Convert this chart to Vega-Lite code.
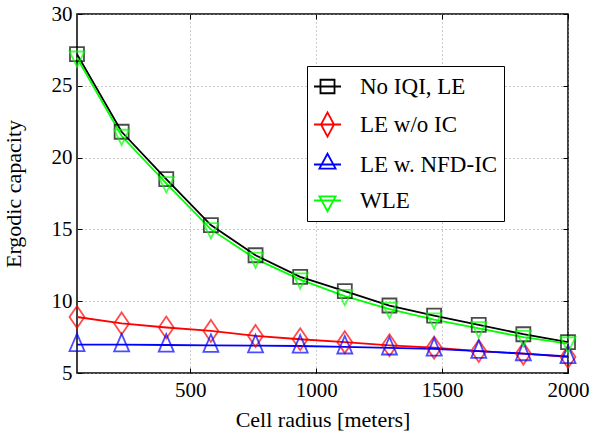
{
  "$schema": "https://vega.github.io/schema/vega-lite/v6.json",
  "width": 491,
  "height": 359,
  "autosize": {"type": "none"},
  "padding": {"left": 77, "top": 14, "right": 22, "bottom": 64},
  "config": {
    "font": "Liberation Serif, Times New Roman, serif",
    "view": {"stroke": "black", "strokeWidth": 1.5},
    "axis": {
      "domain": false,
      "labelFlush": false,
      "labelFont": "Liberation Serif, Times New Roman, serif",
      "labelFontSize": 21,
      "labelColor": "black",
      "titleFont": "Liberation Serif, Times New Roman, serif",
      "titleFontSize": 22,
      "titleFontWeight": "normal",
      "titleColor": "black",
      "tickColor": "black",
      "tickWidth": 1,
      "gridColor": "#999999",
      "gridDash": [1, 3],
      "gridWidth": 1
    },
    "legend": {"labelFont": "Liberation Serif, Times New Roman, serif"},
    "point": {"filled": false, "strokeWidth": 1.8, "size": 196}
  },
  "data": {
    "values": [
      {"r": 50, "s": "No IQI, LE", "v": 27.2},
      {"r": 227.3, "s": "No IQI, LE", "v": 21.8},
      {"r": 404.5, "s": "No IQI, LE", "v": 18.5},
      {"r": 581.8, "s": "No IQI, LE", "v": 15.3},
      {"r": 759.1, "s": "No IQI, LE", "v": 13.2},
      {"r": 936.4, "s": "No IQI, LE", "v": 11.7},
      {"r": 1113.6, "s": "No IQI, LE", "v": 10.7},
      {"r": 1290.9, "s": "No IQI, LE", "v": 9.7},
      {"r": 1468.2, "s": "No IQI, LE", "v": 9.0},
      {"r": 1645.5, "s": "No IQI, LE", "v": 8.35},
      {"r": 1822.7, "s": "No IQI, LE", "v": 7.7},
      {"r": 2000, "s": "No IQI, LE", "v": 7.15},
      {"r": 50, "s": "LE w/o IC", "v": 8.9},
      {"r": 227.3, "s": "LE w/o IC", "v": 8.45},
      {"r": 404.5, "s": "LE w/o IC", "v": 8.17},
      {"r": 581.8, "s": "LE w/o IC", "v": 7.93},
      {"r": 759.1, "s": "LE w/o IC", "v": 7.58},
      {"r": 936.4, "s": "LE w/o IC", "v": 7.35},
      {"r": 1113.6, "s": "LE w/o IC", "v": 7.15},
      {"r": 1290.9, "s": "LE w/o IC", "v": 6.93},
      {"r": 1468.2, "s": "LE w/o IC", "v": 6.77},
      {"r": 1645.5, "s": "LE w/o IC", "v": 6.53},
      {"r": 1822.7, "s": "LE w/o IC", "v": 6.35},
      {"r": 2000, "s": "LE w/o IC", "v": 6.12},
      {"r": 50, "s": "LE w. NFD-IC", "v": 6.98},
      {"r": 227.3, "s": "LE w. NFD-IC", "v": 6.97},
      {"r": 404.5, "s": "LE w. NFD-IC", "v": 6.95},
      {"r": 581.8, "s": "LE w. NFD-IC", "v": 6.93},
      {"r": 759.1, "s": "LE w. NFD-IC", "v": 6.9},
      {"r": 936.4, "s": "LE w. NFD-IC", "v": 6.88},
      {"r": 1113.6, "s": "LE w. NFD-IC", "v": 6.82},
      {"r": 1290.9, "s": "LE w. NFD-IC", "v": 6.75},
      {"r": 1468.2, "s": "LE w. NFD-IC", "v": 6.68},
      {"r": 1645.5, "s": "LE w. NFD-IC", "v": 6.52},
      {"r": 1822.7, "s": "LE w. NFD-IC", "v": 6.35},
      {"r": 2000, "s": "LE w. NFD-IC", "v": 6.15},
      {"r": 50, "s": "WLE", "v": 26.95},
      {"r": 227.3, "s": "WLE", "v": 21.5},
      {"r": 404.5, "s": "WLE", "v": 18.2},
      {"r": 581.8, "s": "WLE", "v": 15.0},
      {"r": 759.1, "s": "WLE", "v": 12.95},
      {"r": 936.4, "s": "WLE", "v": 11.5},
      {"r": 1113.6, "s": "WLE", "v": 10.35},
      {"r": 1290.9, "s": "WLE", "v": 9.45},
      {"r": 1468.2, "s": "WLE", "v": 8.72},
      {"r": 1645.5, "s": "WLE", "v": 8.1},
      {"r": 1822.7, "s": "WLE", "v": 7.5},
      {"r": 2000, "s": "WLE", "v": 7.05}
    ]
  },
  "layer": [
    {
      "mark": {"type": "line", "strokeWidth": 1.8},
      "encoding": {
        "x": {"field": "r", "type": "quantitative", "title": "Cell radius [meters]",
              "scale": {"domain": [50, 2000], "nice": false, "zero": false},
              "axis": {"values": [500, 1000, 1500, 2000], "format": "d", "ticks": false, "labelPadding": 6, "titlePadding": 9}},
        "y": {"field": "v", "type": "quantitative", "title": "Ergodic capacity",
              "scale": {"domain": [5, 30], "nice": false, "zero": false},
              "axis": {"values": [5, 10, 15, 20, 25, 30], "ticks": false, "labelPadding": 5, "titlePadding": 26}},
        "color": {
          "field": "s", "type": "nominal",
          "scale": {"domain": ["No IQI, LE", "LE w/o IC", "LE w. NFD-IC", "WLE"],
                    "range": ["#000000", "#ff0000", "#0000ff", "#00ff00"]},
          "legend": {
            "title": null, "orient": "none", "legendX": 230, "legendY": 52,
            "padding": 6, "strokeColor": "black", "fillColor": "white",
            "labelFontSize": 23, "labelColor": "black", "labelOffset": 18,
            "symbolSize": 729, "rowPadding": 9, "symbolStrokeWidth": 1.8,
            "encode": {
              "symbols": {
                "update": {
                  "fill": {"value": "transparent"},
                  "shape": {"signal": "datum.value === 'No IQI, LE' ? 'M-1,0H1M-0.52,-0.5H0.52V0.5H-0.52Z' : datum.value === 'LE w/o IC' ? 'M-1,0H1M0,-0.9L0.48,0L0,0.9L-0.48,0Z' : datum.value === 'LE w. NFD-IC' ? 'M-1,0H1M0,-0.8L0.6,0.3L-0.6,0.3Z' : 'M-1,0H1M0,0.8L0.6,-0.3L-0.6,-0.3Z'"}
                }
              }
            }
          }
        }
      }
    },
    {
      "transform": [{"filter": {"field": "s", "equal": "No IQI, LE"}}],
      "mark": {"type": "point", "shape": "M-1,-1H1V1H-1Z"},
      "encoding": {
        "x": {"field": "r", "type": "quantitative",
              "scale": {"domain": [50, 2000], "nice": false, "zero": false},
              "axis": {"orient": "top", "values": [500, 1000, 1500, 2000], "labels": false, "title": null, "grid": false, "tickSize": 5, "offset": -5}},
        "y": {"field": "v", "type": "quantitative",
              "scale": {"domain": [5, 30], "nice": false, "zero": false},
              "axis": {"orient": "right", "values": [5, 10, 15, 20, 25, 30], "labels": false, "title": null, "grid": false, "tickSize": 5, "offset": -5}},
        "color": {"field": "s", "type": "nominal"}
      }
    },
    {
      "transform": [{"filter": {"field": "s", "equal": "LE w/o IC"}}],
      "mark": {"type": "point", "shape": "M0,-1.57L1.07,0L0,1.57L-1.07,0Z"},
      "encoding": {
        "x": {"field": "r", "type": "quantitative",
              "scale": {"domain": [50, 2000], "nice": false, "zero": false},
              "axis": {"orient": "bottom", "values": [500, 1000, 1500, 2000], "labels": false, "title": null, "grid": false, "tickSize": 5, "offset": -5}},
        "y": {"field": "v", "type": "quantitative",
              "scale": {"domain": [5, 30], "nice": false, "zero": false},
              "axis": {"orient": "left", "values": [5, 10, 15, 20, 25, 30], "labels": false, "title": null, "grid": false, "tickSize": 5, "offset": -5}},
        "color": {"field": "s", "type": "nominal"}
      }
    },
    {
      "transform": [{"filter": {"field": "s", "equal": "LE w. NFD-IC"}}],
      "mark": {"type": "point", "shape": "M0,-1.55L1.07,0.95L-1.07,0.95Z"},
      "encoding": {
        "x": {"field": "r", "type": "quantitative", "scale": {"domain": [50, 2000], "nice": false, "zero": false}, "axis": null},
        "y": {"field": "v", "type": "quantitative", "scale": {"domain": [5, 30], "nice": false, "zero": false}, "axis": null},
        "color": {"field": "s", "type": "nominal"}
      }
    },
    {
      "transform": [{"filter": {"field": "s", "equal": "WLE"}}],
      "mark": {"type": "point", "shape": "M0,1.3L1.07,-0.9L-1.07,-0.9Z"},
      "encoding": {
        "x": {"field": "r", "type": "quantitative", "scale": {"domain": [50, 2000], "nice": false, "zero": false}, "axis": null},
        "y": {"field": "v", "type": "quantitative", "scale": {"domain": [5, 30], "nice": false, "zero": false}, "axis": null},
        "color": {"field": "s", "type": "nominal"}
      }
    }
  ],
  "resolve": {"axis": {"x": "independent", "y": "independent"}}
}
